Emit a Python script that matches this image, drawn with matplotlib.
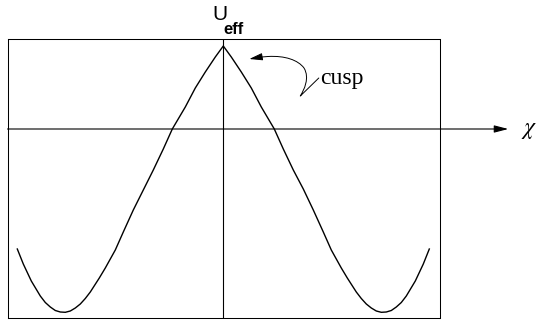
import matplotlib
matplotlib.use("Agg")
import matplotlib.pyplot as plt
from matplotlib.patches import FancyArrowPatch
from matplotlib.path import Path

plt.rcParams['mathtext.fontset'] = 'stix'

# effective potential (chi, U_eff)
chi_left = [-2.06, -2.00, -1.92, -1.83, -1.78, -1.73, -1.68, -1.63, -1.58, -1.53,
            -1.48, -1.43, -1.38, -1.33, -1.24, -1.18, -1.08, -1.00, -0.90, -0.79,
            -0.70, -0.60, -0.51, -0.38, -0.28, -0.18, -0.08, 0.0]
u_left = [-1.20, -1.35, -1.52, -1.67, -1.735, -1.78, -1.815, -1.83, -1.833, -1.82,
          -1.79, -1.75, -1.695, -1.63, -1.49, -1.39, -1.21, -1.03, -0.81, -0.59,
          -0.41, -0.20, 0.0, 0.22, 0.41, 0.57, 0.72, 0.83]
chi_right = [0.0, 0.08, 0.18, 0.28, 0.38, 0.51, 0.60, 0.70, 0.80, 0.90,
             1.00, 1.08, 1.18, 1.24, 1.33, 1.38, 1.43, 1.48, 1.53, 1.58,
             1.63, 1.68, 1.73, 1.78, 1.83, 1.92, 2.00, 2.06]
u_right = [0.83, 0.72, 0.57, 0.41, 0.22, 0.0, -0.20, -0.41, -0.60, -0.81,
           -1.03, -1.21, -1.39, -1.49, -1.63, -1.695, -1.75, -1.79, -1.82, -1.833,
           -1.83, -1.815, -1.78, -1.735, -1.67, -1.52, -1.35, -1.20]

chi = chi_left + chi_right[1:]
u = u_left + u_right[1:]

# curly pointer from the label to the cusp
pointer = [(0.955, 0.51), (0.77, 0.33),
           (0.807, 0.39), (0.867, 0.51), (0.807, 0.61),
           (0.747, 0.69), (0.617, 0.735), (0.447, 0.725),
           (0.367, 0.72), (0.317, 0.71), (0.26, 0.70)]
codes = [Path.MOVETO, Path.LINETO] + [Path.CURVE4] * 9

fig = plt.figure(figsize=(5.36, 3.2), dpi=100)
ax = fig.add_axes([7.5 / 536, 2 / 320, 432 / 536, 279 / 320])
ax.set_xlim(-2.158, 2.162)
ax.set_ylim(-1.89, 0.90)
ax.set_xticks([])
ax.set_yticks([])
for s in ax.spines.values():
    s.set_linewidth(0.75)

ax.plot(chi, u, 'k-', lw=1.0, solid_joinstyle='round')
ax.axvline(0, color='k', lw=0.8)
ax.annotate('', xy=(2.85, 0), xytext=(-2.158, 0), annotation_clip=False,
            arrowprops=dict(arrowstyle='-|>,head_length=0.85,head_width=0.22',
                            color='k', lw=0.8, shrinkA=0, shrinkB=0,
                            mutation_scale=10))
ax.add_patch(FancyArrowPatch(path=Path(pointer, codes),
                             arrowstyle='-|>,head_length=0.8,head_width=0.22',
                             mutation_scale=10, color='k', lw=0.7))

ax.text(0.967, 0.45, 'cusp', family='Liberation Serif', fontsize=17,
        ha='left', va='baseline')
ax.text(2.977, -0.05, r'$\chi$', fontsize=17, ha='left', va='baseline')
ax.text(-0.11, 1.09, 'U', family='Liberation Sans', fontsize=15,
        ha='left', va='baseline', clip_on=False)
ax.text(0.005, 0.95, 'eff', family='Liberation Sans', fontsize=12,
        fontweight='bold', ha='left', va='baseline', clip_on=False)

fig.savefig('out.png', dpi=100)
